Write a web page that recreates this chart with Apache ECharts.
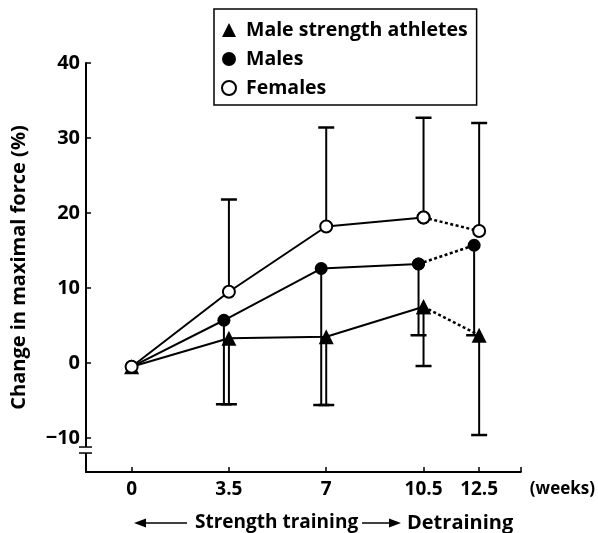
<!DOCTYPE html>
<html><head><meta charset="utf-8">
<script src="https://cdn.jsdelivr.net/npm/echarts@6/dist/echarts.min.js"></script>
<style>html,body{margin:0;padding:0;background:#fff}#c{width:598px;height:533px}</style>
</head><body><div id="c"></div>
<script>
// ---- data ----
const weeks = [0, 3.5, 7, 10.5, 12.5];
const xTickValues = [0, 3.5, 7, 10.5, 12.5];
const yTickValues = [-10, 0, 10, 20, 30, 40];
const athletes = [-0.5, 3.3, 3.5, 7.5, 3.7];
const athletesLow = [null, -5.5, -5.6, -0.4, -9.6];
const males = [-0.5, 5.7, 12.6, 13.2, 15.7];
const malesLow = [null, -5.5, -5.6, 3.7, 3.7];
const females = [-0.5, 9.5, 18.2, 19.4, 17.6];
const femalesHigh = [null, 21.8, 31.4, 32.7, 32.0];
const seriesNames = ['Male strength athletes', 'Males', 'Females'];

// ---- style ----
const FONT = '"Open Sans", "Liberation Sans", sans-serif';
const FW = 'bold';
const MALE_SHIFT = -0.18; // small horizontal offset of male markers (weeks)
const shiftX = (w, s) => (w === 0 ? w : w + s);

function pts(xs, ys, from, to, s) {
  const out = [];
  for (let i = from; i <= to; i++) out.push([shiftX(xs[i], s), ys[i]]);
  return out;
}
function errSeries(ys, ends, s, z) {
  const data = [];
  weeks.forEach((w, i) => { if (ends[i] != null) data.push([shiftX(w, s), ys[i], ends[i]]); });
  return {
    type: 'custom', silent: true, z: z, animation: false,
    encode: { x: 0, y: [1, 2] }, data: data,
    renderItem(params, api) {
      const p0 = api.coord([api.value(0), api.value(1)]);
      const p1 = api.coord([api.value(0), api.value(2)]);
      const w = 8;
      return { type: 'group', children: [
        { type: 'line', shape: { x1: p0[0], y1: p0[1], x2: p1[0], y2: p1[1] }, style: { stroke: '#000', lineWidth: 2 } },
        { type: 'line', shape: { x1: p1[0] - w, y1: p1[1], x2: p1[0] + w, y2: p1[1] }, style: { stroke: '#000', lineWidth: 2.5 } }
      ]};
    }
  };
}
function lineSeries(name, ys, s, symbol, size, itemStyle, z) {
  const common = {
    type: 'line', symbol: symbol, symbolSize: size, showSymbol: true,
    itemStyle: itemStyle, z: z, animation: false, silent: true,
    emphasis: { disabled: true }
  };
  return [
    Object.assign({ name: name, data: pts(weeks, ys, 0, 3, s), lineStyle: { color: '#000', width: 2 } }, common),
    Object.assign({ name: name + ' (detraining)', data: pts(weeks, ys, 3, 4, s), lineStyle: { color: '#000', width: 2.5, type: [3, 2.5] } }, common)
  ];
}

const chart = echarts.init(document.getElementById('c'), null, { renderer: 'canvas' });
const option = {
  backgroundColor: '#fff',
  animation: false,
  textStyle: { fontFamily: FONT, fontWeight: FW, color: '#000' },
  grid: { left: 86, top: 63, width: 437, height: 409, containLabel: false },
  xAxis: {
    type: 'value', min: -1.64, max: 14,
    splitLine: { show: false },
    axisLine: { onZero: false, lineStyle: { color: '#000', width: 2 } },
    axisTick: { inside: true, length: 5, customValues: xTickValues.concat([14]), lineStyle: { color: '#000', width: 1.5 } },
    axisLabel: { customValues: xTickValues, margin: 8, fontSize: 19, fontFamily: FONT, fontWeight: FW, color: '#000' },
    name: '(weeks)', nameLocation: 'end', nameGap: 9,
    nameTextStyle: { fontSize: 17, fontFamily: FONT, fontWeight: FW, color: '#000', align: 'left', verticalAlign: 'top', padding: [9, 0, 0, 0] }
  },
  yAxis: {
    type: 'value', min: -14.53, max: 40,
    splitLine: { show: false },
    axisLine: { onZero: false, lineStyle: { color: '#000', width: 2 } },
    axisTick: { inside: true, length: 5, customValues: yTickValues, lineStyle: { color: '#000', width: 1.5 } },
    axisLabel: { customValues: yTickValues, margin: 6, fontSize: 20, fontFamily: FONT, fontWeight: FW, color: '#000',
      formatter: v => (v < 0 ? '\u2212' + Math.abs(v) : String(v)) },
    name: 'Change in maximal force (%)', nameLocation: 'middle', nameGap: 57,
    nameTextStyle: { fontSize: 20, fontFamily: FONT, fontWeight: FW, color: '#000' }
  },
  legend: {
    orient: 'vertical', left: 214, top: 9, selectedMode: false,
    padding: [11, 9, 7, 7], borderColor: '#000', borderWidth: 1.5,
    itemGap: 9, itemWidth: 14, itemHeight: 14,
    textStyle: { fontSize: 19.5, fontFamily: FONT, fontWeight: FW, color: '#000', padding: [0, 0, 0, 5] },
    data: [
      { name: seriesNames[0], icon: 'triangle', itemStyle: { color: '#000', borderWidth: 0 } },
      { name: seriesNames[1], icon: 'circle', itemStyle: { color: '#000', borderWidth: 0 } },
      { name: seriesNames[2], icon: 'circle', itemStyle: { color: '#fff', borderColor: '#000', borderWidth: 2 } }
    ]
  },
  series: [
    errSeries(athletes, athletesLow, 0, 1),
    errSeries(males, malesLow, MALE_SHIFT, 1),
    errSeries(females, femalesHigh, 0, 1),
    ...lineSeries(seriesNames[0], athletes, 0, 'triangle', 15, { color: '#000' }, 3),
    ...lineSeries(seriesNames[1], males, MALE_SHIFT, 'circle', 13, { color: '#000' }, 4),
    ...lineSeries(seriesNames[2], females, 0, 'circle', 12, { color: '#fff', borderColor: '#000', borderWidth: 2 }, 5)
  ]
};
chart.setOption(option);

// axis break mark and bottom annotation
const ax = chart.convertToPixel({ xAxisIndex: 0 }, -1.64);
const b1 = chart.convertToPixel({ yAxisIndex: 0 }, -11.2);
const b2 = chart.convertToPixel({ yAxisIndex: 0 }, -12.0);
const ay = 523;
chart.setOption({
  graphic: [
    { type: 'rect', shape: { x: ax - 3, y: b1, width: 6, height: b2 - b1 }, style: { fill: '#fff' }, z: 10 },
    { type: 'line', shape: { x1: ax - 7, y1: b1, x2: ax + 6, y2: b1 }, style: { stroke: '#000', lineWidth: 1.5 }, z: 11 },
    { type: 'line', shape: { x1: ax - 7, y1: b2, x2: ax + 6, y2: b2 }, style: { stroke: '#000', lineWidth: 1.5 }, z: 11 },
    { type: 'line', shape: { x1: 138, y1: ay, x2: 187, y2: ay }, style: { stroke: '#000', lineWidth: 1.5 } },
    { type: 'polygon', shape: { points: [[134, ay], [146, ay - 4.5], [146, ay + 4.5]] }, style: { fill: '#000' } },
    { type: 'text', x: 195, y: ay, style: { text: 'Strength training', font: FW + ' 19px ' + FONT, fill: '#000', verticalAlign: 'middle', align: 'left' } },
    { type: 'line', shape: { x1: 362, y1: ay, x2: 396, y2: ay }, style: { stroke: '#000', lineWidth: 1.5 } },
    { type: 'polygon', shape: { points: [[401, ay], [389, ay - 4.5], [389, ay + 4.5]] }, style: { fill: '#000' } },
    { type: 'text', x: 407, y: ay, style: { text: 'Detraining', font: FW + ' 20px ' + FONT, fill: '#000', verticalAlign: 'middle', align: 'left' } }
  ]
});
</script>
</body></html>
